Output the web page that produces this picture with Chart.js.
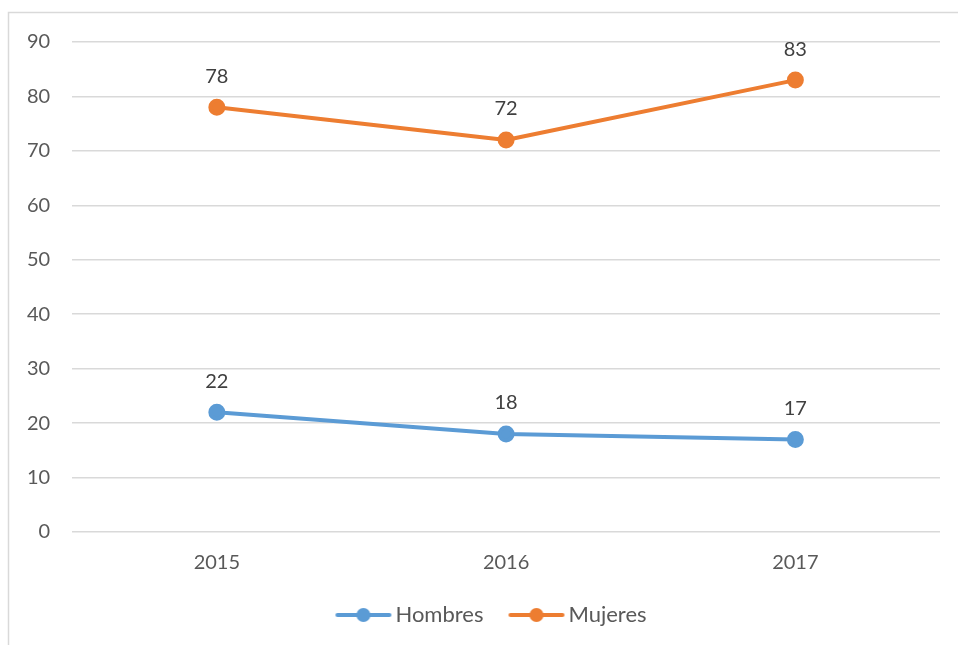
<!DOCTYPE html>
<html>
<head>
<meta charset="utf-8">
<script src="https://cdn.jsdelivr.net/npm/chart.js@4/dist/chart.umd.min.js"></script>
<style>
  body { margin: 0; background: #fff; }
  #wrap { width: 958px; height: 645px; }
</style>
</head>
<body>
<div id="wrap"><canvas id="lineChart" width="958" height="645"></canvas></div>
<script>
// datos
const years = ['2015', '2016', '2017'];
const hombres = [22, 18, 17];
const mujeres = [78, 72, 83];
const yTicks = [0, 10, 20, 30, 40, 50, 60, 70, 80, 90];

const BLUE = '#5B9BD5';
const ORANGE = '#ED7D31';
const FONT = 'Lato, "Open Sans", sans-serif';

// icono de leyenda: línea con círculo (estilo Excel)
function legendIcon(color) {
    const c = document.createElement('canvas');
    c.width = 58;
    c.height = 16;
    const g = c.getContext('2d');
    g.strokeStyle = color;
    g.lineWidth = 4;
    g.lineCap = 'round';
    g.beginPath();
    g.moveTo(3, 8);
    g.lineTo(55, 8);
    g.stroke();
    g.fillStyle = color;
    g.beginPath();
    g.arc(29, 8, 7, 0, Math.PI * 2);
    g.fill();
    return c;
}

// marco gris alrededor del gráfico
const framePlugin = {
    id: 'frame',
    beforeDraw(chart) {
        const ctx = chart.ctx;
        ctx.save();
        ctx.strokeStyle = '#d9d9d9';
        ctx.lineWidth = 1.5;
        ctx.strokeRect(8.5, 12.5, chart.width + 20, chart.height + 20);
        ctx.restore();
    }
};

// mover la leyenda un poco a la derecha, como en el original
const legendShift = {
    id: 'legendShift',
    afterLayout(chart) {
        chart.legend.left += 22;
        chart.legend.right += 22;
    }
};

// etiquetas de datos encima de cada punto
const labelsPlugin = {
    id: 'dataLabels',
    afterDatasetsDraw(chart) {
        const ctx = chart.ctx;
        ctx.save();
        ctx.font = '20px ' + FONT;
        ctx.fillStyle = '#404040';
        ctx.textAlign = 'center';
        ctx.textBaseline = 'middle';
        chart.data.datasets.forEach((ds, i) => {
            chart.getDatasetMeta(i).data.forEach((pt, j) => {
                ctx.fillText(ds.data[j], pt.x, pt.y - 31);
            });
        });
        ctx.restore();
    }
};

const ctx = document.getElementById('lineChart').getContext('2d');
const chart = new Chart(ctx, {
    type: 'line',
    data: {
        labels: years,
        datasets: [{
            label: 'Hombres',
            data: hombres,
            borderColor: BLUE,
            backgroundColor: BLUE,
            borderWidth: 4,
            pointRadius: 6.5,
            pointHoverRadius: 6.5,
            pointStyle: 'circle',
            tension: 0,
            borderCapStyle: 'round',
            borderJoinStyle: 'round'
        }, {
            label: 'Mujeres',
            data: mujeres,
            borderColor: ORANGE,
            backgroundColor: ORANGE,
            borderWidth: 4,
            pointRadius: 6.5,
            pointHoverRadius: 6.5,
            pointStyle: 'circle',
            tension: 0,
            borderCapStyle: 'round',
            borderJoinStyle: 'round'
        }]
    },
    options: {
        responsive: false,
        animation: false,
        layout: {
            padding: { left: 5, right: 18, top: 42, bottom: 9 }
        },
        scales: {
            x: {
                offset: true,
                grid: { display: false },
                border: { display: false },
                ticks: { color: '#595959', font: { family: FONT, size: 20 }, padding: 11 },
                afterFit(axis) {
                    axis.height -= 14;
                }
            },
            y: {
                min: 0,
                max: 90,
                afterBuildTicks(axis) {
                    axis.ticks = yTicks.map(v => ({ value: v }));
                },
                grid: { color: '#d9d9d9', lineWidth: 1.5, drawTicks: false },
                border: { display: false },
                ticks: { color: '#595959', font: { family: FONT, size: 20 }, padding: 22 }
            }
        },
        plugins: {
            legend: {
                position: 'bottom',
                labels: {
                    usePointStyle: true,
                    pointStyleWidth: 42,
                    generateLabels(ch) {
                        return ch.data.datasets.map((ds, i) => ({
                            text: ds.label,
                            pointStyle: legendIcon(ds.borderColor),
                            fillStyle: ds.borderColor,
                            strokeStyle: ds.borderColor,
                            lineWidth: 0,
                            fontColor: '#595959',
                            datasetIndex: i
                        }));
                    },
                    color: '#595959',
                    font: { family: FONT, size: 22 },
                    padding: 32
                }
            },
            tooltip: { enabled: false }
        }
    },
    plugins: [framePlugin, legendShift, labelsPlugin]
});
</script>
</body>
</html>
